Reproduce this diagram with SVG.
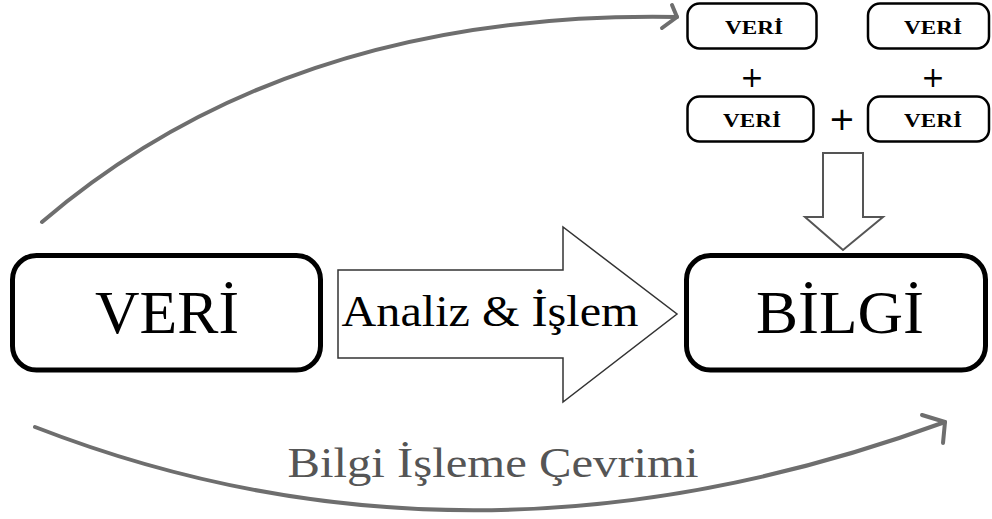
<svg xmlns="http://www.w3.org/2000/svg" width="992" height="519" viewBox="0 0 992 519">
<style>
.big{fill:#fff;stroke:#000;stroke-width:5}
.small{fill:#fff;stroke:#000;stroke-width:2.5}
.serif{font-family:"Liberation Serif","DejaVu Serif",serif;text-anchor:middle}
.sv{font-family:"Liberation Serif","DejaVu Serif",serif;font-weight:bold;font-size:19px;text-anchor:middle;fill:#000}
.plus{font-family:"DejaVu Sans","Liberation Sans",sans-serif;text-anchor:middle;fill:#000}
.curve{fill:none;stroke:#6e6e6e;stroke-width:4;stroke-linecap:round;stroke-linejoin:round}
</style>
<rect width="992" height="519" fill="#fff"/>
<g id="connectors">
<path class="curve" d="M42,222 Q290,10 677,17"/>
<polyline class="curve" points="672,5 677,17 662,28"/>
<path class="curve" d="M35,427 Q470,596 945,422"/>
<polyline class="curve" points="922,415 945,422 943,443"/>
<polygon id="analiz-arrow" points="338,270 563,270 563,227 677,314 563,402 563,358 338,358" fill="#fff" stroke="#333" stroke-width="1.5"/>
<polygon id="down-arrow" points="823,153 863,153 863,217 883,217 843,250 805,217 823,217" fill="#fff" stroke="#555" stroke-width="2"/>
</g>
<g id="veri-main">
<rect class="big" x="12.5" y="255.5" width="308" height="114.5" rx="24"/>
<text class="serif" x="167" y="333" font-size="62" textLength="144" lengthAdjust="spacingAndGlyphs">VERİ</text>
</g>
<g id="bilgi-main">
<rect class="big" x="686.5" y="255.5" width="299" height="114.5" rx="24"/>
<text class="serif" x="840" y="333" font-size="62" textLength="168" lengthAdjust="spacingAndGlyphs">BİLGİ</text>
</g>
<g id="analiz-label">
<text class="serif" x="490" y="326" font-size="44" textLength="297" lengthAdjust="spacingAndGlyphs">Analiz &amp; İşlem</text>
</g>
<g id="cycle-label">
<text class="serif" x="493" y="477" font-size="42" fill="#555" textLength="411" lengthAdjust="spacingAndGlyphs">Bilgi İşleme Çevrimi</text>
</g>
<g id="veri1">
<rect class="small" x="687.5" y="3.5" width="129" height="45" rx="12"/>
<text class="sv" x="754" y="34" textLength="58" lengthAdjust="spacingAndGlyphs">VERİ</text>
</g>
<g id="veri2">
<rect class="small" x="868" y="3.5" width="121" height="45" rx="12"/>
<text class="sv" x="933" y="34" textLength="58" lengthAdjust="spacingAndGlyphs">VERİ</text>
</g>
<g id="veri3">
<rect class="small" x="687.5" y="96.5" width="126" height="45" rx="12"/>
<text class="sv" x="752" y="127" textLength="58" lengthAdjust="spacingAndGlyphs">VERİ</text>
</g>
<g id="veri4">
<rect class="small" x="868" y="96.5" width="121" height="45" rx="12"/>
<text class="sv" x="933" y="127" textLength="58" lengthAdjust="spacingAndGlyphs">VERİ</text>
</g>
<g id="plus-signs">
<text class="plus" x="752" y="87" font-size="28">+</text>
<text class="plus" x="933" y="87" font-size="28">+</text>
<text class="plus" x="842" y="130" font-size="32">+</text>
</g>
</svg>
